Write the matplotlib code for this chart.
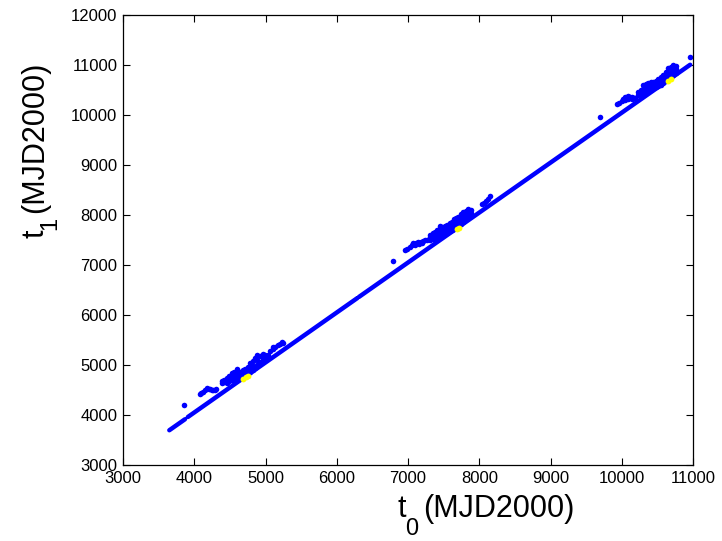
import numpy as np
import matplotlib
matplotlib.use('Agg')
import matplotlib.pyplot as plt

plt.rcParams['font.family'] = ['Liberation Sans', 'DejaVu Sans']

# main diagonal band (nan = gap)
line_t0 = [3650, 3870, np.nan, 3910, 6285, np.nan, 6310, 10960]
line_t1 = [3695, 3915, np.nan, 3960, 6335, np.nan, 6360, 11005]

# cluster around t0 ~ 4000-5250
clusA_t0 = [3860,
            4080, 4100, 4127, 4150, 4175, 4200, 4221, 4245, 4268, 4290, 4305,
            4385, 4385, 4420, 4420, 4455, 4455, 4455, 4490, 4490, 4490,
            4525, 4525, 4525, 4560, 4560, 4560, 4596, 4596, 4596, 4596,
            4642, 4642, 4642, 4680, 4680, 4680, 4712, 4712, 4712,
            4750, 4750, 4750, 4782, 4782, 4782, 4820, 4820, 4820,
            4853, 4853, 4876, 4876, 4876, 4923, 4923, 4960, 4960, 4960,
            4993, 4993, 5030, 5030,
            5063, 5100, 5100, 5140, 5180, 5210, 5227, 5245]
clusA_t1 = [4206,
            4420, 4440, 4466, 4500, 4534, 4520, 4514, 4500, 4500, 4510, 4514,
            4650, 4680, 4660, 4700, 4650, 4700, 4740, 4680, 4740, 4790,
            4700, 4760, 4833, 4710, 4780, 4860, 4720, 4800, 4880, 4913,
            4740, 4800, 4870, 4760, 4830, 4900, 4800, 4860, 4913,
            4830, 4900, 4960, 4860, 4940, 5033, 4900, 4990, 5080,
            4950, 5133, 5000, 5100, 5200, 5060, 5180, 5100, 5160, 5220,
            5120, 5210, 5150, 5210,
            5280, 5320, 5360, 5360, 5400, 5420, 5467, 5440]

# cluster around t0 ~ 6800-8150
clusB_t0 = [6794,
            6958, 6990, 7030, 7050, 7077, 7110, 7145, 7180, 7215, 7240, 7263,
            7100, 7150, 7200,
            7309, 7309, 7309, 7344, 7344, 7344, 7379, 7379, 7379, 7414, 7414, 7414,
            7449, 7449, 7449, 7449, 7484, 7484, 7484, 7519, 7519, 7519,
            7554, 7554, 7554, 7589, 7589, 7589, 7620, 7620, 7620,
            7650, 7650, 7650, 7680, 7680, 7680, 7706, 7706, 7706,
            7740, 7740, 7740, 7776, 7776, 7776, 7810, 7810, 7810,
            7846, 7846, 7846, 7880, 7880,
            8034, 8060, 8095, 8120, 8151]
clusB_t1 = [7087,
            7300, 7330, 7367, 7400, 7447, 7440, 7467, 7470, 7487, 7500, 7500,
            7400, 7420, 7440,
            7510, 7560, 7600, 7530, 7600, 7640, 7550, 7620, 7667, 7560, 7640, 7700,
            7580, 7660, 7733, 7790, 7600, 7680, 7760, 7620, 7700, 7780,
            7640, 7730, 7810, 7680, 7760, 7833, 7700, 7790, 7870,
            7720, 7820, 7920, 7750, 7860, 7950, 7780, 7880, 7967,
            7820, 7920, 8030, 7860, 7960, 8067, 7920, 8010, 8090,
            8000, 8060, 8113, 8040, 8100,
            8220, 8250, 8287, 8320, 8387]

# cluster around t0 ~ 9700-11000
clusC_t0 = [9695,
            9929, 9960, 10000, 10020, 10046, 10070, 10093, 10120, 10140, 10165, 10186,
            10040, 10090, 10140,
            10233, 10233, 10268, 10268, 10303, 10303, 10303, 10338, 10338, 10338,
            10373, 10373, 10373, 10408, 10408, 10408, 10443, 10443, 10443,
            10478, 10478, 10478, 10513, 10513, 10513, 10548, 10548, 10548,
            10584, 10584, 10584, 10620, 10620, 10620, 10654, 10654, 10654,
            10690, 10690, 10690, 10724, 10724, 10724, 10761, 10761, 10761,
            10958]
clusC_t1 = [9967,
            10220, 10250, 10287, 10320, 10353, 10370, 10380, 10370, 10367, 10350, 10333,
            10300, 10330, 10320,
            10400, 10467, 10420, 10500, 10450, 10530, 10600, 10480, 10560, 10630,
            10500, 10580, 10647, 10520, 10600, 10660, 10540, 10610, 10667,
            10560, 10630, 10690, 10580, 10650, 10720, 10610, 10690, 10760,
            10640, 10720, 10800, 10680, 10770, 10860, 10720, 10820, 10933,
            10760, 10870, 10960, 10800, 10900, 11000, 10850, 10930, 10990,
            11153]

# highlighted (yellow) points
hi_t0 = [4690, 4720, 4760, 7690, 7720, 10650, 10690]
hi_t1 = [4725, 4752, 4790, 7725, 7750, 10690, 10720]

xticks = [3000, 4000, 5000, 6000, 7000, 8000, 9000, 10000, 11000]
yticks = [3000, 4000, 5000, 6000, 7000, 8000, 9000, 10000, 11000, 12000]

fig = plt.figure(figsize=(7.22, 5.41), dpi=100)
ax = fig.add_axes([123/722, 1 - 465/541, 570/722, 450/541])

blue = '#0000ff'
ax.plot(line_t0, line_t1, color=blue, lw=3.2, solid_capstyle='round')
for cx, cy in [(clusA_t0, clusA_t1), (clusB_t0, clusB_t1), (clusC_t0, clusC_t1)]:
    ax.plot(cx, cy, 'o', color=blue, ms=4.0, mec='none')
ax.plot(hi_t0, hi_t1, 'o', color='#ffff00', ms=4.2, mec='none')

ax.set_xlim(3000, 11000)
ax.set_ylim(3000, 12000)
ax.set_xticks(xticks)
ax.set_yticks(yticks)
ax.tick_params(direction='in', length=5, width=0.8, top=True, right=True,
               labelsize=12, pad=4)
for s in ax.spines.values():
    s.set_linewidth(0.9)

# labels with MATLAB-like lowered subscripts
fig.text(397/722, 1 - 517/541, 't', fontsize=22, ha='left', va='baseline')
fig.text(405/722, 1 - 535/541, '0', fontsize=17, ha='left', va='baseline')
fig.text(423/722, 1 - 517/541, '(MJD2000)', fontsize=22, ha='left', va='baseline')

fig.text(43/722, 1 - 238/541, 't', fontsize=22, rotation=90,
         rotation_mode='anchor', ha='left', va='baseline')
fig.text(56/722, 1 - 230/541, '1', fontsize=17, rotation=90,
         rotation_mode='anchor', ha='left', va='baseline')
fig.text(43/722, 1 - 213/541, '(MJD2000)', fontsize=22, rotation=90,
         rotation_mode='anchor', ha='left', va='baseline')

fig.savefig('out.png', dpi=100)
